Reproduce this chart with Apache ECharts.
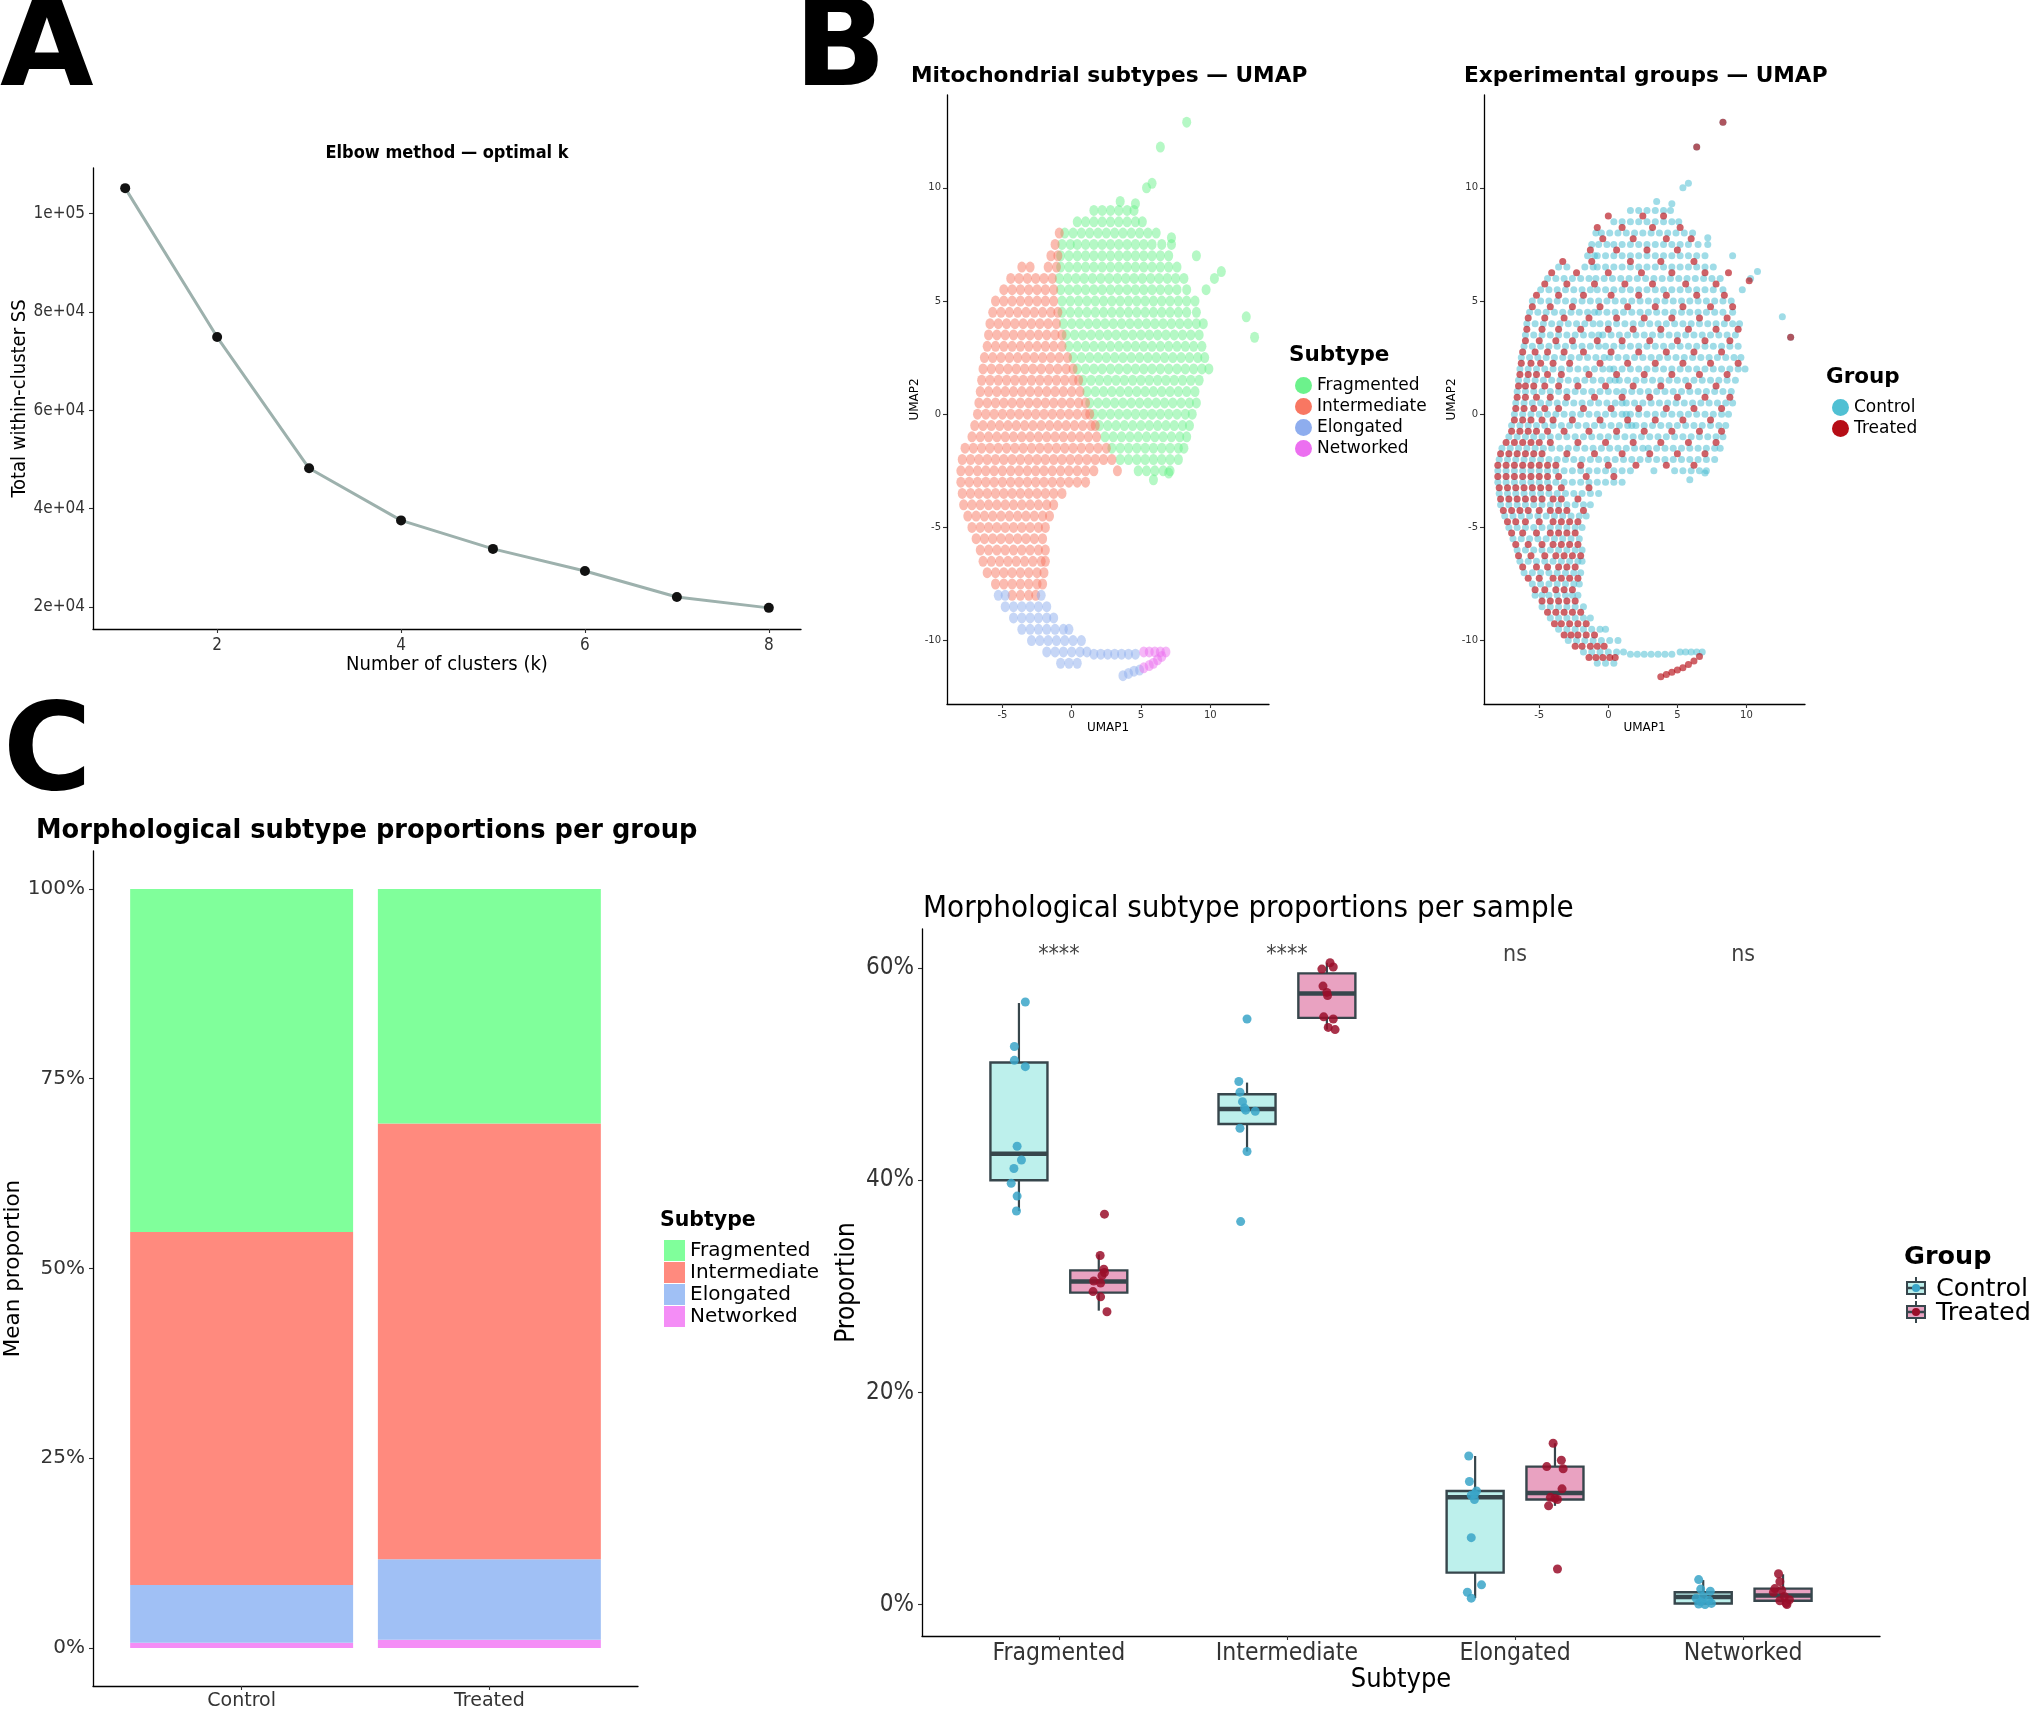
<!DOCTYPE html>
<html lang="en">
<head>
    <meta charset="UTF-8">
    <title>Mitochondrial morphology figure</title>
    <script src="https://cdn.jsdelivr.net/npm/echarts/dist/echarts.min.js"></script>
    <style>
        body { margin: 0; background: #fff; }
        #main { width: 2032px; height: 1712px; }
    </style>
</head>
<body>
<div id="main"></div>
<script type="text/javascript">
    // ---- panel A: elbow ----
    const elbowK = [1, 2, 3, 4, 5, 6, 7, 8];
    const elbowSS = [105200, 74900, 48200, 37600, 31800, 27300, 22000, 19800];
    const elbowTicks = [20000, 40000, 60000, 80000, 100000];
    const elbowTickLabels = ['2e+04', '4e+04', '6e+04', '8e+04', '1e+05'];

    // ---- panel B: UMAP (rows of [y, x, x, ...]) ----
    const fragRows = [
        [9.0, 1.6, 2.2, 2.8, 3.4, 4.0, 4.5],
        [8.5, 0.4, 1.0, 1.6, 2.2, 2.8, 3.4, 4.0, 4.6, 5.1],
        [8.0, -0.5, 0.1, 0.7, 1.3, 1.9, 2.5, 3.1, 3.7, 4.3, 4.9, 5.5, 6.1],
        [7.5, -0.7, -0.1, 0.4, 1.0, 1.6, 2.2, 2.8, 3.4, 4.0, 4.6, 5.2, 5.8, 6.5, 7.2],
        [7.0, -0.8, -0.2, 0.4, 1.0, 1.6, 2.2, 2.8, 3.4, 4.0, 4.6, 5.2, 5.8, 6.4, 7.0, 9.0],
        [6.5, -0.8, -0.2, 0.4, 1.0, 1.6, 2.2, 2.8, 3.4, 4.0, 4.6, 5.2, 5.8, 6.4, 7.0, 7.6],
        [6.0, -0.9, -0.3, 0.3, 0.9, 1.5, 2.1, 2.7, 3.3, 3.9, 4.5, 5.1, 5.7, 6.3, 6.9, 7.5, 8.1, 10.3],
        [5.5, -0.8, -0.2, 0.4, 1.0, 1.6, 2.2, 2.8, 3.4, 4.0, 4.6, 5.2, 5.8, 6.4, 7.0, 7.6, 8.3, 9.7],
        [5.0, -0.7, -0.1, 0.5, 1.1, 1.7, 2.3, 2.9, 3.5, 4.1, 4.7, 5.3, 5.9, 6.5, 7.1, 7.7, 8.3, 8.9],
        [4.5, -0.7, -0.1, 0.5, 1.1, 1.7, 2.3, 2.9, 3.5, 4.1, 4.7, 5.3, 5.9, 6.5, 7.1, 7.7, 8.3, 9.0],
        [4.0, -0.6, 0.0, 0.6, 1.2, 1.8, 2.4, 3.0, 3.6, 4.2, 4.8, 5.4, 6.0, 6.6, 7.2, 7.8, 8.4, 9.0, 9.5],
        [3.5, -0.4, 0.2, 0.8, 1.4, 2.0, 2.6, 3.2, 3.8, 4.4, 5.0, 5.6, 6.2, 6.8, 7.4, 8.0, 8.6, 9.2],
        [3.0, -0.2, 0.4, 1.0, 1.6, 2.2, 2.8, 3.4, 4.0, 4.6, 5.2, 5.8, 6.4, 7.0, 7.6, 8.2, 8.8, 9.4],
        [2.5, 0.1, 0.7, 1.3, 1.9, 2.5, 3.1, 3.7, 4.3, 4.9, 5.5, 6.1, 6.7, 7.3, 7.9, 8.5, 9.1, 9.6],
        [2.0, 0.4, 1.0, 1.6, 2.2, 2.8, 3.4, 4.0, 4.6, 5.2, 5.8, 6.4, 7.0, 7.6, 8.2, 8.8, 9.4, 9.9],
        [1.5, 0.8, 1.4, 2.0, 2.6, 3.2, 3.8, 4.4, 5.0, 5.6, 6.2, 6.8, 7.4, 8.0, 8.6, 9.2],
        [1.0, 1.1, 1.7, 2.3, 2.9, 3.5, 4.1, 4.7, 5.3, 5.9, 6.5, 7.1, 7.7, 8.3, 8.9],
        [0.5, 1.3, 1.9, 2.5, 3.1, 3.7, 4.3, 4.9, 5.5, 6.1, 6.7, 7.3, 7.9, 8.5, 9.0],
        [0.0, 1.6, 2.2, 2.8, 3.4, 4.0, 4.6, 5.2, 5.8, 6.4, 7.0, 7.6, 8.2, 8.7],
        [-0.5, 2.0, 2.6, 3.2, 3.8, 4.4, 5.0, 5.6, 6.2, 6.8, 7.4, 8.0, 8.5],
        [-1.0, 2.4, 3.0, 3.6, 4.2, 4.8, 5.4, 6.0, 6.6, 7.2, 7.8, 8.3],
        [-1.5, 2.9, 3.5, 4.1, 4.7, 5.3, 5.9, 6.5, 7.1, 7.7, 8.1],
        [-2.0, 3.5, 4.1, 4.7, 5.3, 5.9, 6.5, 7.1, 7.7],
        [-2.5, 4.8, 5.4, 6.0, 6.6, 7.1]
    ];
    const fragOutliers = [[8.3, 12.9], [6.4, 11.8], [5.8, 10.2], [5.4, 10.0], [3.5, 9.4], [4.6, 9.3],
        [7.2, 7.8], [12.6, 4.3], [13.2, 3.4], [10.8, 6.3], [5.9, -2.9], [7.0, -2.6]];
    const interRows = [
        [8.0, -0.9],
        [7.5, -1.2],
        [7.0, -1.5, -1.0],
        [6.5, -3.6, -3.0, -1.7, -1.1],
        [6.0, -4.4, -3.8, -3.2, -2.6, -2.0, -1.4],
        [5.5, -4.9, -4.3, -3.7, -3.1, -2.5, -1.9, -1.3],
        [5.0, -5.5, -4.9, -4.3, -3.7, -3.1, -2.5, -1.9, -1.3],
        [4.5, -5.7, -5.1, -4.5, -3.9, -3.3, -2.7, -2.1, -1.5, -1.0],
        [4.0, -5.9, -5.3, -4.7, -4.1, -3.5, -2.9, -2.3, -1.7, -1.1],
        [3.5, -6.0, -5.4, -4.8, -4.2, -3.6, -3.0, -2.4, -1.8, -1.2, -0.7],
        [3.0, -6.1, -5.5, -4.9, -4.3, -3.7, -3.1, -2.5, -1.9, -1.3, -0.7],
        [2.5, -6.3, -5.7, -5.1, -4.5, -3.9, -3.3, -2.7, -2.1, -1.5, -0.9, -0.3],
        [2.0, -6.4, -5.8, -5.2, -4.6, -4.0, -3.4, -2.8, -2.2, -1.6, -1.0, -0.4, 0.1],
        [1.5, -6.5, -5.9, -5.3, -4.7, -4.1, -3.5, -2.9, -2.3, -1.7, -1.1, -0.5, 0.1, 0.5],
        [1.0, -6.6, -6.0, -5.4, -4.8, -4.2, -3.6, -3.0, -2.4, -1.8, -1.2, -0.6, 0.0, 0.6],
        [0.5, -6.7, -6.1, -5.5, -4.9, -4.3, -3.7, -3.1, -2.5, -1.9, -1.3, -0.7, -0.1, 0.5, 1.0],
        [0.0, -6.8, -6.2, -5.6, -5.0, -4.4, -3.8, -3.2, -2.6, -2.0, -1.4, -0.8, -0.2, 0.4, 1.0, 1.3],
        [-0.5, -7.0, -6.4, -5.8, -5.2, -4.6, -4.0, -3.4, -2.8, -2.2, -1.6, -1.0, -0.4, 0.2, 0.8, 1.4, 1.7],
        [-1.0, -7.2, -6.6, -6.0, -5.4, -4.8, -4.2, -3.6, -3.0, -2.4, -1.8, -1.2, -0.6, 0.0, 0.6, 1.2, 1.8],
        [-1.5, -7.7, -7.1, -6.5, -5.9, -5.3, -4.7, -4.1, -3.5, -2.9, -2.3, -1.7, -1.1, -0.5, 0.1, 0.7, 1.3, 1.9, 2.5],
        [-2.0, -7.9, -7.3, -6.7, -6.1, -5.5, -4.9, -4.3, -3.7, -3.1, -2.5, -1.9, -1.3, -0.7, -0.1, 0.5, 1.1, 1.7, 2.3, 2.9],
        [-2.5, -8.0, -7.4, -6.8, -6.2, -5.6, -5.0, -4.4, -3.8, -3.2, -2.6, -2.0, -1.4, -0.8, -0.2, 0.4, 1.0, 1.6, 3.3],
        [-3.0, -8.0, -7.4, -6.8, -6.2, -5.6, -5.0, -4.4, -3.8, -3.2, -2.6, -2.0, -1.4, -0.8, -0.2, 0.4, 1.0],
        [-3.5, -7.9, -7.3, -6.7, -6.1, -5.5, -4.9, -4.3, -3.7, -3.1, -2.5, -1.9, -1.3, -0.7],
        [-4.0, -7.8, -7.2, -6.6, -6.0, -5.4, -4.8, -4.2, -3.6, -3.0, -2.4, -1.8, -1.3],
        [-4.5, -7.5, -6.9, -6.3, -5.7, -5.1, -4.5, -3.9, -3.3, -2.7, -2.1, -1.6],
        [-5.0, -7.2, -6.6, -6.0, -5.4, -4.8, -4.2, -3.6, -3.0, -2.4, -1.9],
        [-5.5, -6.9, -6.3, -5.7, -5.1, -4.5, -3.9, -3.3, -2.7, -2.1],
        [-6.0, -6.6, -6.0, -5.4, -4.8, -4.2, -3.6, -3.0, -2.4, -1.9],
        [-6.5, -6.4, -5.8, -5.2, -4.6, -4.0, -3.4, -2.8, -2.2, -1.9],
        [-7.0, -6.1, -5.5, -4.9, -4.3, -3.7, -3.1, -2.5, -2.0],
        [-7.5, -5.5, -4.9, -4.3, -3.7, -3.1, -2.5, -2.1],
        [-8.0, -4.3, -3.7, -3.1, -2.6]
    ];
    const elongRows = [
        [-8.0, -5.3, -4.8, -2.2],
        [-8.5, -4.8, -4.2, -3.6, -3.0, -2.4, -1.8],
        [-9.0, -4.2, -3.6, -3.0, -2.4, -1.8, -1.3],
        [-9.5, -3.6, -3.0, -2.4, -1.8, -1.2, -0.6, -0.2],
        [-10.0, -2.9, -2.3, -1.7, -1.1, -0.5, 0.1, 0.7],
        [-10.5, -1.8, -1.2, -0.6, 0.0, 0.6, 1.1],
        [-10.6, 1.6, 2.1, 2.6, 3.1, 3.6, 4.1, 4.6],
        [-11.0, -0.8, -0.2, 0.4]
    ];
    const elongBranch = [[3.7, -11.55], [4.1, -11.45], [4.5, -11.35], [4.9, -11.3]];
    const netRows = [
        [-10.5, 5.2, 5.6, 6.0, 6.4, 6.8]
    ];
    const netBranch = [[5.2, -11.2], [5.6, -11.1], [5.9, -11.0], [6.2, -10.85], [6.5, -10.7]];
    const treatedRows = [
        [8.75, 0.0, 2.5, 4.0],
        [8.25, -0.8, 1.0, 3.2, 5.2],
        [7.75, -0.4, 1.8, 4.2, 6.0],
        [7.25, -1.3, 0.6, 2.8, 5.0],
        [6.75, -3.3, -1.2, 1.6, 3.8, 6.2],
        [6.25, -4.1, -2.3, 0.0, 2.4, 4.6, 7.0, 8.7],
        [5.75, -4.6, -3.0, -1.0, 1.2, 3.2, 5.6, 7.8],
        [5.25, -5.2, -3.6, -1.8, 0.2, 2.2, 4.2, 6.4, 8.4],
        [4.75, -5.5, -4.2, -2.6, -0.6, 1.4, 3.4, 5.4, 7.4, 9.0],
        [4.25, -5.8, -4.6, -3.2, -1.4, 0.6, 2.6, 4.6, 6.6, 8.6],
        [3.75, -5.9, -4.8, -3.6, -2.0, 0.0, 1.8, 3.8, 5.8, 7.8, 9.4],
        [3.25, -6.0, -5.0, -3.8, -2.6, -0.8, 1.0, 3.0, 5.0, 7.0, 8.8],
        [2.75, -6.2, -5.3, -4.4, -3.2, -1.8, 0.2, 2.2, 4.2, 6.2, 8.2],
        [2.25, -6.3, -5.6, -4.9, -4.0, -2.8, -0.6, 1.4, 3.4, 5.4, 7.4, 9.4],
        [1.75, -6.4, -5.8, -5.2, -4.4, -3.4, -1.4, 0.6, 2.6, 4.6, 6.6, 8.6],
        [1.25, -6.5, -6.0, -5.4, -4.6, -3.6, -2.2, -0.2, 1.8, 3.8, 5.8, 7.8],
        [0.75, -6.6, -6.0, -5.2, -4.2, -3.0, -1.0, 1.0, 3.0, 5.0, 7.0, 8.8],
        [0.25, -6.7, -6.1, -5.4, -4.6, -3.6, -1.8, 0.2, 2.2, 4.2, 6.2, 8.2],
        [-0.25, -6.8, -6.2, -5.6, -4.8, -4.0, -2.6, -0.6, 1.4, 3.4, 5.4, 7.4],
        [-0.75, -7.0, -6.4, -5.8, -5.2, -4.4, -3.2, -1.4, 0.6, 2.6, 4.6, 6.6, 8.2],
        [-1.25, -7.4, -6.8, -6.2, -5.6, -5.0, -4.2, -2.2, -0.2, 1.8, 3.8, 5.8, 7.8],
        [-1.75, -7.8, -7.2, -6.6, -6.0, -5.4, -4.8, -3.0, -1.0, 1.0, 3.0, 5.0, 7.0],
        [-2.25, -8.0, -7.4, -6.8, -6.2, -5.6, -5.0, -4.4, -3.8, -2.0, 0.0, 2.0, 4.2, 6.2],
        [-2.75, -8.0, -7.4, -6.8, -6.2, -5.6, -5.0, -4.4, -3.6, -1.6, 0.4],
        [-3.25, -7.9, -7.3, -6.7, -6.1, -5.5, -4.9, -4.3, -3.4, -1.4],
        [-3.75, -7.8, -7.2, -6.6, -6.0, -5.4, -4.8, -4.0, -3.4, -2.2],
        [-4.25, -7.6, -7.0, -6.4, -5.8, -5.0, -4.2, -3.6, -3.0, -1.8],
        [-4.75, -7.3, -6.7, -6.0, -5.0, -4.0, -3.4, -2.8, -2.2],
        [-5.25, -7.0, -6.2, -5.2, -4.2, -3.6, -3.0, -2.4],
        [-5.75, -6.7, -5.8, -4.8, -4.0, -3.4, -2.8, -2.2],
        [-6.25, -6.5, -5.6, -4.6, -3.8, -3.2, -2.6, -2.0],
        [-6.75, -6.2, -5.2, -4.4, -3.6, -3.0, -2.4],
        [-7.25, -5.8, -5.0, -4.0, -3.4, -2.8, -2.2],
        [-7.75, -5.3, -4.6, -3.8, -3.2, -2.6],
        [-8.25, -4.8, -4.2, -3.6, -3.0, -2.4],
        [-8.75, -4.4, -3.8, -3.2, -2.6, -2.0],
        [-9.25, -3.9, -3.4, -2.8, -2.2, -1.6],
        [-9.75, -3.2, -2.7, -2.2, -1.6, -1.0],
        [-10.25, -2.4, -1.9, -1.3, -0.8, -0.3],
        [-10.75, -1.4, -0.9, -0.4, 0.1, 0.5]
    ];
    const treatedBranch = [[3.8, -11.6], [4.2, -11.5], [4.6, -11.4], [5.0, -11.3], [5.4, -11.2],
        [5.8, -11.05], [6.2, -10.9], [6.6, -10.7]];
    const treatedOutliers = [[8.3, 12.9], [6.4, 11.8], [13.2, 3.4], [10.2, 5.9]];
    const umapXTicks = [-5, 0, 5, 10];
    const umapYTicks = [-10, -5, 0, 5, 10];

    // ---- panel C: proportions ----
    const groupNames = ['Control', 'Treated'];
    const subtypes = ['Fragmented', 'Intermediate', 'Elongated', 'Networked'];
    const meanControl = [45.2, 46.5, 7.6, 0.7];
    const meanTreated = [30.9, 57.4, 10.6, 1.1];
    const barTicks = [0, 0.25, 0.5, 0.75, 1];

    // box stats per subtype: [min, q1, median, q3, max] in %
    const ctrlBox = [[37.1, 40.0, 42.5, 51.1, 56.7], [42.7, 45.3, 46.7, 48.1, 49.2],
        [0.6, 3.0, 10.1, 10.7, 14.0], [0.0, 0.1, 0.7, 1.15, 2.3]];
    const trtBox = [[27.7, 29.4, 30.45, 31.5, 33.0], [54.2, 55.3, 57.6, 59.5, 60.5],
        [9.3, 9.9, 10.5, 13.0, 15.2], [0.0, 0.35, 0.85, 1.5, 2.85]];
    // sample points per subtype: [value %, jitter]
    const ctrlPts = [
        [[56.8, 0.028], [52.6, -0.02], [51.3, -0.02], [50.7, 0.028], [43.2, -0.008], [41.9, 0.011], [41.1, -0.022], [39.7, -0.034], [38.5, -0.008], [37.1, -0.011]],
        [[55.2, 0.0], [49.3, -0.036], [48.3, -0.031], [47.4, -0.02], [46.8, -0.011], [46.6, -0.006], [46.5, 0.036], [44.9, -0.031], [42.7, 0.0], [36.1, -0.028]],
        [[14.0, -0.028], [11.6, -0.025], [10.7, 0.006], [10.4, -0.003], [10.3, -0.017], [9.9, -0.003], [6.3, -0.017], [1.85, 0.028], [1.15, -0.034], [0.6, -0.017]],
        [[2.35, -0.02], [1.45, -0.011], [1.25, 0.031], [0.75, 0.0], [0.6, -0.031], [0.4, 0.025], [0.25, -0.011], [0.1, 0.036], [0.05, -0.02], [0.0, 0.008]]
    ];
    const trtPts = [
        [[36.8, 0.025], [32.9, 0.006], [31.6, 0.022], [31.3, 0.025], [31.0, 0.014], [30.5, -0.022], [30.3, 0.008], [29.5, -0.025], [29.0, 0.008], [27.6, 0.036]],
        [[60.5, 0.014], [60.1, 0.028], [59.9, -0.022], [58.3, -0.017], [57.7, 0.0], [57.4, 0.003], [55.4, -0.014], [55.2, 0.028], [54.4, 0.006], [54.2, 0.036]],
        [[15.2, -0.008], [13.6, 0.028], [13.0, -0.036], [12.8, 0.036], [10.9, 0.031], [10.1, -0.02], [10.0, 0.0], [9.9, 0.011], [9.3, -0.028], [3.35, 0.011]],
        [[2.9, -0.02], [2.15, -0.014], [1.5, -0.036], [1.35, -0.006], [1.15, -0.042], [0.75, 0.006], [0.45, 0.028], [0.35, -0.014], [0.1, 0.014], [0.0, 0.017]]
    ];
    const sigLabels = ['****', '****', 'ns', 'ns'];
    const sigY = 61.2;
    const propTicks = [0, 20, 40, 60];

    const FONT = "'DejaVu Sans', sans-serif";
    const COND = "'DejaVu Sans Condensed', 'Liberation Sans Narrow', 'DejaVu Sans', sans-serif";
    const umapColors = ['#6CF28C', '#F87762', '#8EADEE', '#EC6FF0'];
    const barColors = ['#80FF9B', '#FF8A7E', '#A0C0F5', '#F48DF6'];
    const groupColors = ['#50C0D3', '#B60D16'];
    const boxFill = ['#BDF0EC', '#E9A2C1'];
    const ptColor = ['#3AA5C8', '#9A0E2A'];
    const boxStroke = '#37464C';
    const dodge = 0.175;

    function rowsToPoints(rows) {
        let out = [];
        for (let r of rows) {
            for (let i = 1; i < r.length; i++) out.push([r[i], r[0]]);
        }
        return out;
    }

    function axisBase(grid, fontSize, font) {
        return {
            gridIndex: grid,
            type: 'value',
            splitLine: {show: false},
            axisLine: {show: true, onZero: false, lineStyle: {color: '#000', width: 1.3}},
            axisTick: {show: true, length: 4, lineStyle: {color: '#333', width: 1.1}},
            axisLabel: {fontSize: fontSize, fontFamily: font, color: '#333', margin: 8},
            nameLocation: 'middle',
            nameTextStyle: {fontFamily: font, color: '#000'}
        };
    }

    function withTicks(ax, values, formatter) {
        ax.axisTick.customValues = values;
        ax.axisLabel.customValues = values;
        if (formatter) ax.axisLabel.formatter = formatter;
        return ax;
    }

    // A
    let xA = withTicks(axisBase(0, 17, COND), [2, 4, 6, 8]);
    Object.assign(xA, {min: 0.65, max: 8.35, name: 'Number of clusters (k)', nameGap: 22});
    xA.nameTextStyle.fontSize = 20;
    let yA = withTicks(axisBase(0, 17, COND), elbowTicks, v => elbowTickLabels[elbowTicks.indexOf(v)]);
    Object.assign(yA, {min: 15500, max: 109300, name: 'Total within-cluster SS', nameGap: 60, nameRotate: 90});
    yA.nameTextStyle.fontSize = 20;

    // B
    function umapAxes(grid) {
        let x = withTicks(axisBase(grid, 10, FONT), umapXTicks);
        Object.assign(x, {min: -9.0, max: 14.24, name: 'UMAP1', nameGap: 18});
        x.nameTextStyle.fontSize = 12;
        x.axisLabel.margin = 6;
        let y = withTicks(axisBase(grid, 10, FONT), umapYTicks);
        Object.assign(y, {min: -12.8, max: 14.1, name: 'UMAP2', nameGap: 26, nameRotate: 90});
        y.nameTextStyle.fontSize = 12;
        y.axisLabel.margin = 6;
        return [x, y];
    }
    const [xB1, yB1] = umapAxes(1);
    const [xB2, yB2] = umapAxes(2);

    // C left
    let xC1 = withTicks(axisBase(3, 19, FONT), [1, 2], v => groupNames[v - 1]);
    Object.assign(xC1, {min: 0.4, max: 2.6});
    xC1.axisLabel.margin = 6;
    let yC1 = withTicks(axisBase(3, 20, FONT), barTicks, v => Math.round(v * 100) + '%');
    Object.assign(yC1, {min: -0.05, max: 1.05, name: 'Mean proportion', nameGap: 62, nameRotate: 90});
    yC1.nameTextStyle.fontSize = 21.5;

    // C right
    let xC2 = withTicks(axisBase(4, 24.5, COND), [1, 2, 3, 4], v => subtypes[v - 1]);
    Object.assign(xC2, {min: 0.4, max: 4.6, name: 'Subtype', nameGap: 30});
    xC2.axisLabel.margin = 5;
    xC2.nameTextStyle.fontSize = 27;
    let yC2 = withTicks(axisBase(4, 24, COND), propTicks, v => v + '%');
    Object.assign(yC2, {min: -2.97, max: 63.68, name: 'Proportion', nameGap: 62, nameRotate: 90});
    yC2.nameTextStyle.fontSize = 26;

    let series = [];

    series.push({
        type: 'line', xAxisIndex: 0, yAxisIndex: 0,
        data: elbowK.map((k, i) => [k, elbowSS[i]]),
        lineStyle: {color: '#9DB1AD', width: 3},
        symbol: 'circle', symbolSize: 10,
        itemStyle: {color: '#111'}
    });

    // subtype UMAP
    const subtypePts = [
        rowsToPoints(fragRows).concat(fragOutliers),
        rowsToPoints(interRows),
        rowsToPoints(elongRows).concat(elongBranch),
        rowsToPoints(netRows).concat(netBranch)
    ];
    subtypes.forEach((s, i) => {
        series.push({
            name: 'u:' + s, type: 'scatter', xAxisIndex: 1, yAxisIndex: 1,
            data: subtypePts[i], symbolSize: [9, 11],
            itemStyle: {color: umapColors[i], opacity: 0.5}
        });
    });

    // group UMAP
    const controlPts = rowsToPoints(fragRows).concat(fragOutliers, rowsToPoints(interRows),
        rowsToPoints(elongRows), rowsToPoints(netRows));
    const treatedPts = rowsToPoints(treatedRows).concat(treatedBranch, treatedOutliers);
    series.push({
        name: 'g:Control', type: 'scatter', xAxisIndex: 2, yAxisIndex: 2,
        data: controlPts, symbolSize: 7,
        itemStyle: {color: groupColors[0], opacity: 0.55}
    });
    series.push({
        name: 'g:Treated', type: 'scatter', xAxisIndex: 2, yAxisIndex: 2,
        data: treatedPts, symbolSize: 7,
        itemStyle: {color: groupColors[1], opacity: 0.65}
    });

    // stacked bars (custom rects), bottom segment first
    function barRender(fill) {
        return function (params, api) {
            const x = api.value(0);
            const w = api.size([0.9, 0])[0];
            const pLo = api.coord([x, api.value(1)]);
            const pHi = api.coord([x, api.value(2)]);
            return {
                type: 'rect',
                shape: {x: pLo[0] - w / 2, y: pHi[1], width: w, height: pLo[1] - pHi[1]},
                style: {fill: fill}
            };
        };
    }
    let baseC = 0, baseT = 0;
    for (let i = subtypes.length - 1; i >= 0; i--) {
        const c = meanControl[i] / 100, t = meanTreated[i] / 100;
        series.push({
            name: 'b:' + subtypes[i], type: 'custom', xAxisIndex: 3, yAxisIndex: 3,
            renderItem: barRender(barColors[i]),
            itemStyle: {color: barColors[i]},
            encode: {x: 0, y: [1, 2]},
            data: [[1, baseC, baseC + c], [2, baseT, baseT + t]]
        });
        baseC += c;
        baseT += t;
    }

    // boxplots
    function boxRender(fill) {
        return function (params, api) {
            const x = api.value(0);
            const w = api.size([0.25, 0])[0];
            const pMin = api.coord([x, api.value(1)]);
            const pQ1 = api.coord([x, api.value(2)]);
            const pMed = api.coord([x, api.value(3)]);
            const pQ3 = api.coord([x, api.value(4)]);
            const pMax = api.coord([x, api.value(5)]);
            return {
                type: 'group', children: [
                    {type: 'line', shape: {x1: pMin[0], y1: pMin[1], x2: pQ1[0], y2: pQ1[1]}, style: {stroke: boxStroke, lineWidth: 2.2}},
                    {type: 'line', shape: {x1: pQ3[0], y1: pQ3[1], x2: pMax[0], y2: pMax[1]}, style: {stroke: boxStroke, lineWidth: 2.2}},
                    {type: 'rect', shape: {x: pQ1[0] - w / 2, y: pQ3[1], width: w, height: pQ1[1] - pQ3[1]}, style: {fill: fill, stroke: boxStroke, lineWidth: 2.4}},
                    {type: 'line', shape: {x1: pMed[0] - w / 2, y1: pMed[1], x2: pMed[0] + w / 2, y2: pMed[1]}, style: {stroke: boxStroke, lineWidth: 4.5}}
                ]
            };
        };
    }
    [ctrlBox, trtBox].forEach((boxes, g) => {
        const off = g === 0 ? -dodge : dodge;
        series.push({
            type: 'custom', xAxisIndex: 4, yAxisIndex: 4,
            renderItem: boxRender(boxFill[g]),
            encode: {x: 0, y: [1, 2, 3, 4, 5]},
            data: boxes.map((b, i) => [i + 1 + off].concat(b))
        });
    });
    [ctrlPts, trtPts].forEach((pts, g) => {
        const off = g === 0 ? -dodge : dodge;
        let data = [];
        pts.forEach((list, i) => {
            list.forEach(p => data.push([i + 1 + off + p[1], p[0]]));
        });
        series.push({
            type: 'scatter', xAxisIndex: 4, yAxisIndex: 4,
            data: data, symbolSize: 9,
            itemStyle: {color: ptColor[g], opacity: 0.85}
        });
    });
    series.push({
        type: 'scatter', xAxisIndex: 4, yAxisIndex: 4,
        data: sigLabels.map((s, i) => [i + 1, sigY]),
        symbolSize: 0,
        label: {
            show: true, position: 'inside', formatter: p => sigLabels[p.dataIndex],
            fontSize: 23, fontFamily: COND, color: '#111'
        }
    });

    function legendGlyph(x, y, fill, dot) {
        return {
            type: 'group', x: x, y: y, children: [
                {type: 'line', shape: {x1: 0, y1: -11, x2: 0, y2: 11}, style: {stroke: boxStroke, lineWidth: 2}},
                {type: 'rect', shape: {x: -9, y: -6, width: 18, height: 12}, style: {fill: fill, stroke: boxStroke, lineWidth: 2}},
                {type: 'line', shape: {x1: -9, y1: 0, x2: 9, y2: 0}, style: {stroke: boxStroke, lineWidth: 2.5}},
                {type: 'circle', shape: {cx: 0, cy: 0, r: 4}, style: {fill: dot}}
            ]
        };
    }

    function txt(text, x, y, size, opts) {
        return {
            type: 'text', x: x, y: y,
            style: Object.assign({
                text: text, fontSize: size, fontFamily: FONT, fill: '#000',
                textAlign: 'left', textVerticalAlign: 'middle'
            }, opts || {})
        };
    }

    const stripName = name => name.split(':')[1];

    let option = {
        animation: false,
        backgroundColor: '#fff',
        grid: [
            {left: 93, top: 168, width: 708, height: 461},
            {left: 947, top: 95, width: 322, height: 609},
            {left: 1484, top: 95, width: 321, height: 609},
            {left: 93, top: 851, width: 545, height: 835},
            {left: 922, top: 929, width: 958, height: 707}
        ],
        xAxis: [xA, xB1, xB2, xC1, xC2],
        yAxis: [yA, yB1, yB2, yC1, yC2],
        legend: [
            {
                data: subtypes.map(s => 'u:' + s), formatter: stripName,
                orient: 'vertical', left: 1290, top: 372, icon: 'circle',
                itemWidth: 17, itemHeight: 17, itemGap: 4, selectedMode: false,
                itemStyle: {opacity: 1},
                textStyle: {fontSize: 17, fontFamily: FONT, color: '#000'}
            },
            {
                data: ['g:Control', 'g:Treated'], formatter: stripName,
                orient: 'vertical', left: 1827, top: 394, icon: 'circle',
                itemWidth: 17, itemHeight: 17, itemGap: 4, selectedMode: false,
                itemStyle: {opacity: 1},
                textStyle: {fontSize: 17, fontFamily: FONT, color: '#000'}
            },
            {
                data: subtypes.map(s => 'b:' + s), formatter: stripName,
                orient: 'vertical', left: 659, top: 1235, icon: 'rect',
                itemWidth: 21, itemHeight: 21, itemGap: 1, selectedMode: false,
                textStyle: {fontSize: 20, fontFamily: FONT, color: '#000'}
            }
        ],
        graphic: [
            txt('A', 0, 54, 121, {fontWeight: 'bold'}),
            txt('B', 794, 54, 121, {fontWeight: 'bold'}),
            txt('C', 3, 758, 121, {fontWeight: 'bold'}),
            txt('Elbow method — optimal k', 447, 153, 18, {fontWeight: 'bold', fontFamily: COND, textAlign: 'center'}),
            txt('Mitochondrial subtypes — UMAP', 911, 76, 21.7, {fontWeight: 'bold'}),
            txt('Experimental groups — UMAP', 1464, 76, 21.7, {fontWeight: 'bold'}),
            txt('Subtype', 1289, 355, 21.5, {fontWeight: 'bold'}),
            txt('Group', 1826, 377, 21.5, {fontWeight: 'bold'}),
            txt('Morphological subtype proportions per group', 36, 831, 25.7, {fontWeight: 'bold'}),
            txt('Subtype', 660, 1221, 20.5, {fontWeight: 'bold'}),
            txt('Morphological subtype proportions per sample', 923, 909, 31, {fontFamily: COND}),
            txt('Group', 1904, 1257, 25.5, {fontWeight: 'bold'}),
            legendGlyph(1916, 1288, boxFill[0], ptColor[0]),
            legendGlyph(1916, 1312, boxFill[1], ptColor[1]),
            txt('Control', 1936, 1289, 25.5),
            txt('Treated', 1936, 1313, 25.5)
        ],
        series: series
    };

    let myChart = echarts.init(document.getElementById('main'));
    myChart.setOption(option);
</script>
</body>
</html>
